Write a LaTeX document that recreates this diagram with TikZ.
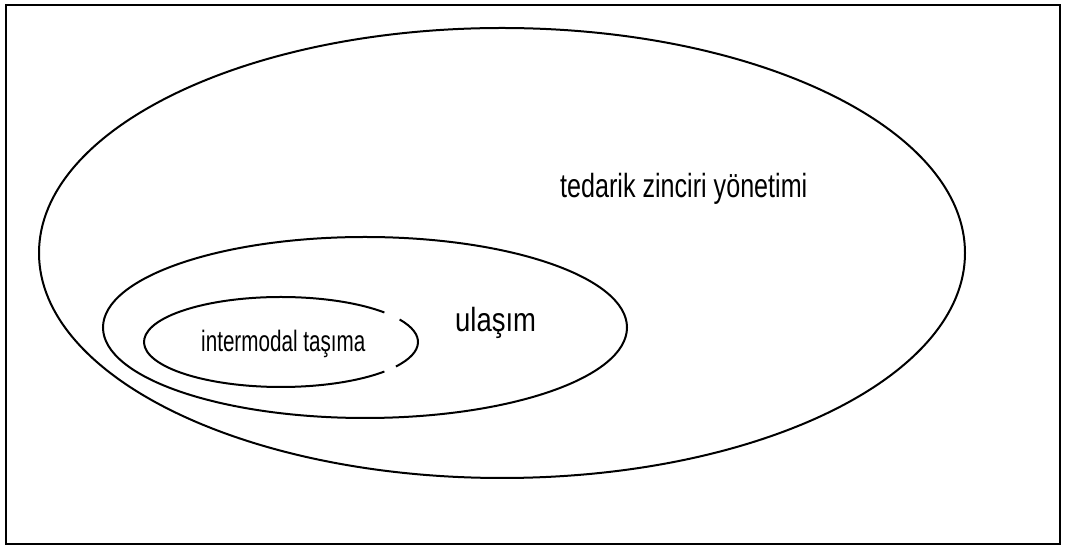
\documentclass[tikz,border=0pt]{standalone}
\usepackage{fontspec}
\usepackage{graphicx}
\setmainfont{Liberation Sans}
\begin{document}
\begin{tikzpicture}[x=1pt,y=1pt,
  frameline/.style={draw=black,line width=2.2pt},
  setline/.style={draw=black,line width=2pt},
  lbl/.style={inner sep=0pt,anchor=base west,text=black}]
\useasboundingbox (0,0) rectangle (1066,546);
\fill[white] (0,0) rectangle (1066,546);
\draw[frameline] (6,2) rectangle (1060,541);
% sets
\coordinate (cout) at (502,293);
\coordinate (cmid) at (365,218.5);
\coordinate (cin) at (281,204);
\draw[setline] (cout) ellipse [x radius=463, y radius=225];
\draw[setline] (cmid) ellipse [x radius=262, y radius=90.5];
\draw[setline] (cin) ++(41:137 and 45) arc[start angle=41, end angle=319, x radius=137, y radius=45];
\draw[setline] (cin) ++(-33:137 and 45) arc[start angle=-33, end angle=30, x radius=137, y radius=45];
% labels
\node[lbl] (tzy) at (560,348) {\fontsize{33.5}{40}\selectfont\scalebox{0.75}[1]{tedarik zinciri yönetimi}};
\node[lbl] (ul) at (455,214) {\fontsize{33.5}{40}\selectfont\scalebox{0.82}[1]{ulaşım}};
\node[lbl] (it) at (201,194) {\fontsize{29.5}{35}\selectfont\scalebox{0.70}[1]{intermodal taşıma}};
\end{tikzpicture}
\end{document}
